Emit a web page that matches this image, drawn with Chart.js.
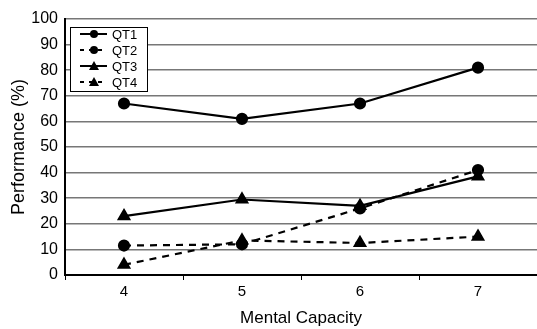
<!DOCTYPE html>
<html>
<head>
<meta charset="utf-8">
<script src="https://cdn.jsdelivr.net/npm/chart.js@4"></script>
<style>
  html, body { margin: 0; padding: 0; background: #fff; }
  #wrap { width: 537px; height: 329px; }
</style>
</head>
<body>
<div id="wrap"><canvas id="myChart" width="537" height="329"></canvas></div>
<script>
// Datos
const capacity = ['4', '5', '6', '7'];
const qt1 = [67, 61, 67, 81];
const qt2 = [11.5, 12, 26, 41];
const qt3 = [23, 29.5, 27, 38.5];
const qt4 = [4, 13.5, 12.5, 15];
const yTicks = [0, 10, 20, 30, 40, 50, 60, 70, 80, 90, 100];

const FONT = 'Liberation Sans, Arial, sans-serif';

function serie(label, data, shape, dashed) {
  return {
    label: label,
    data: data,
    borderColor: '#000',
    backgroundColor: '#000',
    borderWidth: 2.2,
    borderDash: dashed ? [7, 6] : [],
    pointStyle: shape,
    pointRadius: shape === 'triangle' ? 6 : 5,
    pointHoverRadius: 5,
    tension: 0,
    fill: false
  };
}

// leyenda dibujada a mano dentro del area
const boxLegend = {
  id: 'boxLegend',
  afterDraw(chart) {
    const ctx = chart.ctx;
    const x0 = 70, y0 = 27, w = 77, h = 64;
    ctx.save();
    ctx.fillStyle = '#fff';
    ctx.fillRect(x0, y0, w, h);
    ctx.strokeStyle = '#000';
    ctx.lineWidth = 1;
    ctx.strokeRect(x0 + 0.5, y0 + 0.5, w, h);
    chart.data.datasets.forEach((ds, i) => {
      const y = y0 + 7 + i * 16;
      ctx.strokeStyle = '#000';
      ctx.lineWidth = 2;
      ctx.setLineDash(ds.borderDash.length ? [4, 5] : []);
      ctx.beginPath();
      ctx.moveTo(x0 + 10, y);
      ctx.lineTo(x0 + 37, y);
      ctx.stroke();
      ctx.setLineDash([]);
      ctx.fillStyle = '#000';
      ctx.beginPath();
      if (ds.pointStyle === 'triangle') {
        ctx.moveTo(x0 + 24, y - 5);
        ctx.lineTo(x0 + 29, y + 4);
        ctx.lineTo(x0 + 19, y + 4);
        ctx.closePath();
      } else {
        ctx.arc(x0 + 24, y, 4, 0, Math.PI * 2);
      }
      ctx.fill();
      ctx.font = '13px ' + FONT;
      ctx.textBaseline = 'middle';
      ctx.fillText(ds.label, x0 + 42, y + 1);
    });
    ctx.restore();
  }
};

new Chart(document.getElementById('myChart'), {
  type: 'line',
  data: {
    labels: capacity,
    datasets: [
      serie('QT1', qt1, 'circle', false),
      serie('QT2', qt2, 'circle', true),
      serie('QT3', qt3, 'triangle', false),
      serie('QT4', qt4, 'triangle', true)
    ]
  },
  options: {
    responsive: false,
    animation: false,
    layout: { autoPadding: false, padding: { top: 19, right: 0, left: 0, bottom: 0 } },
    plugins: {
      legend: { display: false },
      tooltip: { enabled: false }
    },
    scales: {
      x: {
        offset: true,
        grid: {
          offset: true,
          drawOnChartArea: false,
          drawTicks: true,
          tickLength: 5,
          color: '#000'
        },
        border: { color: '#000', width: 2 },
        ticks: { color: '#000', font: { family: FONT, size: 15 }, padding: 3 },
        title: {
          display: true,
          text: 'Mental Capacity',
          color: '#000',
          font: { family: FONT, size: 17 },
          padding: { top: 3, bottom: 0 }
        },
        afterFit(s) { s.height = 54; s.paddingLeft = 0; s.paddingRight = 0; }
      },
      y: {
        min: 0,
        max: 100,
        afterBuildTicks(s) { s.ticks = yTicks.map(v => ({ value: v })); },
        grid: { color: '#777', lineWidth: 1.5, drawTicks: false },
        border: { color: '#000', width: 2 },
        ticks: { color: '#000', font: { family: FONT, size: 16 }, padding: 7 },
        title: {
          display: true,
          text: 'Performance (%)',
          color: '#000',
          font: { family: FONT, size: 18 },
          padding: { top: 8, bottom: 4 }
        },
        afterFit(s) { s.width = 65; }
      }
    }
  },
  plugins: [boxLegend]
});
</script>
</body>
</html>
